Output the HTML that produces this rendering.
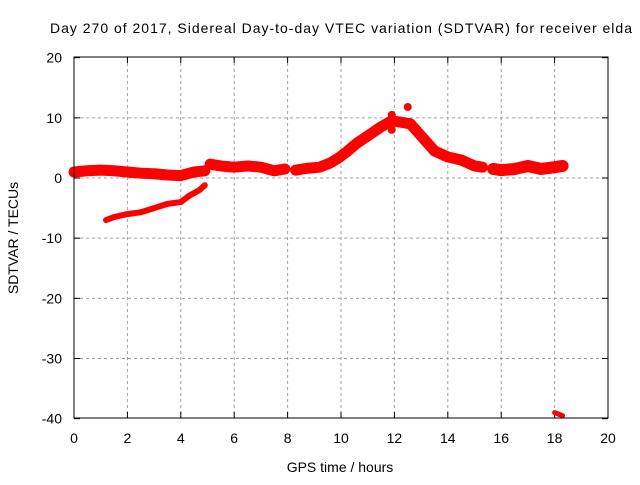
<!DOCTYPE html>
<html><head><meta charset="utf-8"><style>
body{margin:0;background:#fff;}
svg text{font-family:"Liberation Sans",sans-serif;font-size:14px;fill:#000;}
</style></head><body>
<svg id="c" width="640" height="480" xmlns="http://www.w3.org/2000/svg">
<rect width="640" height="480" fill="#fff"/>
<text x="50" y="33" textLength="582" lengthAdjust="spacing">Day 270 of 2017, Sidereal Day-to-day VTEC variation (SDTVAR) for receiver elda</text>
<g id="grid"></g>
<g id="ticks"></g>
<g id="series"></g>
<rect x="74" y="57" width="534" height="361" fill="none" stroke="#000" stroke-width="1"/>
<text x="340" y="472" text-anchor="middle">GPS time / hours</text>
<text transform="translate(18,238) rotate(-90)" text-anchor="middle">SDTVAR / TECUs</text>
</svg>
<script>
const xTicks=[0,2,4,6,8,10,12,14,16,18,20];
const yTicks=[20,10,0,-10,-20,-30,-40];
const mainA=[[0,1],[0.5,1.2],[1,1.3],[1.5,1.2],[2,1],[2.5,0.8],[3,0.7],[3.5,0.5],[4,0.4],[4.5,1],[4.9,1.2]];
const mainB=[[5.1,2.3],[5.5,2],[6,1.8],[6.5,2],[7,1.8],[7.5,1.2],[7.9,1.5]];
const mainC=[[8.3,1.3],[8.7,1.6],[9.2,1.8],[9.6,2.5],[9.9,3.3],[10.2,4.3],[10.6,5.8],[11,7],[11.5,8.5],[11.9,9.5],[12.2,9.3],[12.6,9],[13,7],[13.5,4.5],[14,3.5],[14.5,3],[15,2],[15.3,1.8]];
const mainD=[[15.7,1.5],[16,1.3],[16.5,1.5],[17,2],[17.5,1.5],[18,1.8],[18.3,2]];
const lower=[[1.2,-7],[1.5,-6.5],[2,-6],[2.5,-5.7],[3,-5],[3.5,-4.3],[4,-4],[4.3,-3],[4.7,-2],[4.9,-1.2]];
const outlier=[[18,-39],[18.3,-39.5]];
const spikes=[[11.9,10.5],[12.5,11.8],[11.9,8]];
const NS='http://www.w3.org/2000/svg';
const X=v=>74+v*534/20, Y=v=>178-v*361/60;
const G=document.getElementById('grid'),T=document.getElementById('ticks'),S=document.getElementById('series');
function mk(t,a,p){const e=document.createElementNS(NS,t);for(const k in a)e.setAttribute(k,a[k]);p.appendChild(e);return e;}
xTicks.forEach(v=>{
 if(v>0&&v<20){const l=mk('line',{x1:X(v),x2:X(v),y1:57,y2:418,stroke:'#a0a0a0','stroke-dasharray':'3,3'},G);
 
 }
 mk('line',{x1:X(v),x2:X(v),y1:418,y2:412,stroke:'#000'},T);
 mk('line',{x1:X(v),x2:X(v),y1:57,y2:63,stroke:'#000'},T);
 const t=mk('text',{x:X(v),y:443,'text-anchor':'middle'},T);t.textContent=v;
 
 
});
yTicks.forEach(v=>{
 if(v<20&&v>-40){const l=mk('line',{x1:74,x2:608,y1:Y(v),y2:Y(v),stroke:'#a0a0a0','stroke-dasharray':'3,3'},G);
 
 }
 mk('line',{x1:74,x2:80,y1:Y(v),y2:Y(v),stroke:'#000'},T);
 mk('line',{x1:602,x2:608,y1:Y(v),y2:Y(v),stroke:'#000'},T);
 const t=mk('text',{x:62,y:Y(v)+5,'text-anchor':'end'},T);t.textContent=v;
 
 
});
function band(pts,w,name){
 const p=mk('polyline',{points:pts.map(q=>X(q[0])+','+Y(q[1])).join(' '),fill:'none',stroke:'#f00','stroke-width':w,'stroke-linejoin':'round','stroke-linecap':'round'},S);
 
 
}
band(mainA,11,'sdtvar-band-a');band(mainB,11,'sdtvar-band-b');band(mainC,11,'sdtvar-band-c');band(mainD,12,'sdtvar-band-d');
band(lower,6,'sdtvar-lower-band');band(outlier,5,'sdtvar-outlier');
spikes.forEach(q=>{
 const c=mk('circle',{cx:X(q[0]),cy:Y(q[1]),r:4,fill:'#f00'},S);
 
 
});
</script>
</body></html>
